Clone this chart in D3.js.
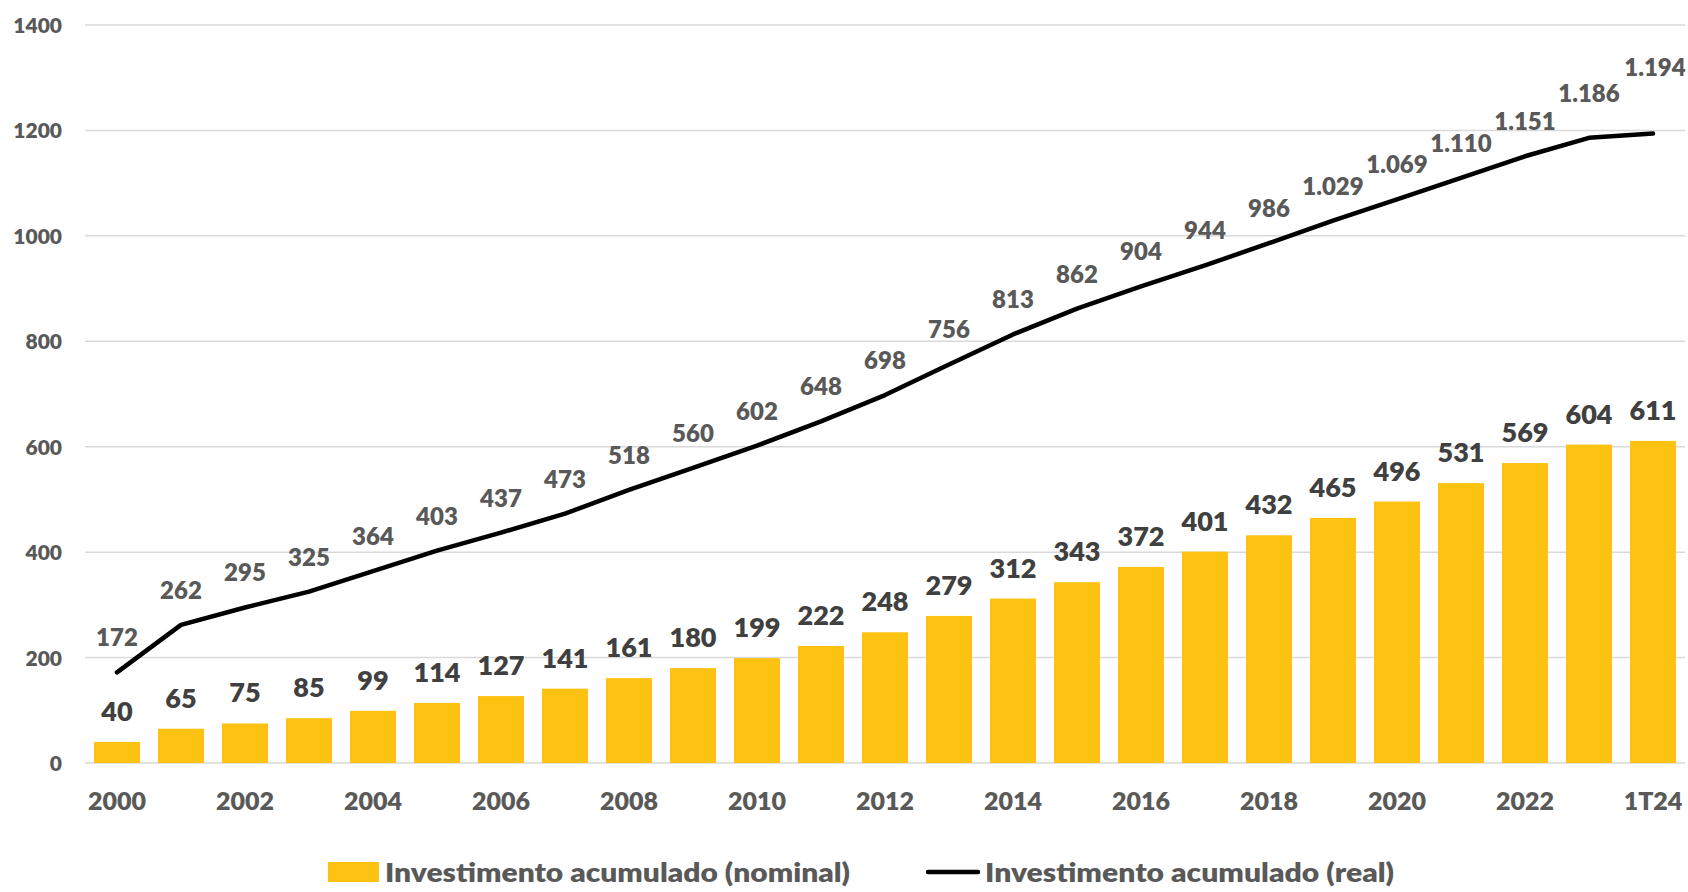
<!DOCTYPE html>
<html>
<head>
<meta charset="utf-8">
<script src="https://cdn.jsdelivr.net/npm/d3@7"></script>
<style>
  html, body { margin: 0; padding: 0; background: #fff; }
  svg { display: block; font-family: Lato, "Open Sans", sans-serif; font-weight: 800; }
</style>
</head>
<body>
<svg id="chart" width="1688" height="892"></svg>
<script>
const categories = ["2000","2001","2002","2003","2004","2005","2006","2007","2008","2009","2010","2011","2012","2013","2014","2015","2016","2017","2018","2019","2020","2021","2022","2023","1T24"];
const nominal = [40,65,75,85,99,114,127,141,161,180,199,222,248,279,312,343,372,401,432,465,496,531,569,604,611];
const real = [172,262,295,325,364,403,437,473,518,560,602,648,698,756,813,862,904,944,986,1029,1069,1110,1151,1186,1194];
const yTicks = [0,200,400,600,800,1000,1200,1400];
const xTickLabels = ["2000","2002","2004","2006","2008","2010","2012","2014","2016","2018","2020","2022","1T24"];
const seriesNames = ["Investimento acumulado (nominal)", "Investimento acumulado (real)"];

const svg = d3.select("#chart");
const plotLeft = 85, plotRight = 1685, plotTop = 25, plotBottom = 763;
const W = 800;

const x = d3.scaleBand().domain(categories).range([plotLeft, plotRight]).paddingInner(0.28).paddingOuter(0.14);
const y = d3.scaleLinear().domain([0, 1400]).range([plotBottom, plotTop]);

const fmt = v => d3.format(",")(v).replace(/,/g, ".");

// gridlines
svg.append("g").selectAll("line").data(yTicks).join("line")
  .attr("x1", plotLeft).attr("x2", plotRight)
  .attr("y1", d => y(d)).attr("y2", d => y(d))
  .attr("stroke", "#d9d9d9").attr("stroke-width", 1.5);

// y axis labels
const yAxis = d3.axisLeft(y).tickValues(yTicks).tickSize(0).tickPadding(0).tickFormat(d => d);
const gy = svg.append("g").attr("transform", `translate(${62},0)`).call(yAxis);
gy.select(".domain").remove();
gy.selectAll("text").attr("font-size", 21).attr("font-family", "Lato, sans-serif").attr("font-weight", W)
  .attr("fill", "#595959").attr("dy", "0.36em");

// bars
svg.append("g").selectAll("rect").data(nominal).join("rect")
  .attr("x", (d, i) => x(categories[i]))
  .attr("width", x.bandwidth())
  .attr("y", d => y(d))
  .attr("height", d => y(0) - y(d))
  .attr("fill", "#fec212");

// bar labels
svg.append("g").selectAll("text").data(nominal).join("text")
  .attr("x", (d, i) => x(categories[i]) + x.bandwidth() / 2)
  .attr("y", d => y(d) - 21)
  .attr("text-anchor", "middle")
  .attr("font-size", 27)
  .attr("fill", "#404040")
  .text(d => d);

// line
const cx = i => x(categories[i]) + x.bandwidth() / 2;
const line = d3.line().x((d, i) => cx(i)).y(d => y(d));
svg.append("path").datum(real)
  .attr("d", line)
  .attr("fill", "none")
  .attr("stroke", "#000")
  .attr("stroke-width", 4.5)
  .attr("stroke-linejoin", "round")
  .attr("stroke-linecap", "round");

// line labels (last two nudged upward as in the source)
const n = real.length;
const labelLift = i => i === n - 1 ? 58 : (i === n - 2 ? 36 : 26);
svg.append("g").selectAll("text").data(real).join("text")
  .attr("x", (d, i) => cx(i) + (i === n - 1 ? 2 : 0))
  .attr("y", (d, i) => y(d) - labelLift(i))
  .attr("text-anchor", "middle")
  .attr("font-size", 24)
  .attr("fill", "#595959")
  .text(d => fmt(d));

// x axis labels
const xAxis = d3.axisBottom(x).tickSize(0).tickPadding(0)
  .tickValues(xTickLabels);
const gx = svg.append("g").attr("transform", `translate(0,${810})`).call(xAxis);
gx.select(".domain").remove();
gx.selectAll("text").attr("font-size", 25).attr("font-family", "Lato, sans-serif").attr("font-weight", W)
  .attr("fill", "#595959").attr("dy", 0);

// legend
const lg = svg.append("g");
lg.append("rect").attr("x", 328).attr("y", 862).attr("width", 51).attr("height", 20).attr("fill", "#fec212");
lg.append("text").attr("x", 385).attr("y", 882).attr("font-size", 27).attr("fill", "#595959")
  .attr("textLength", 465).attr("lengthAdjust", "spacingAndGlyphs").text(seriesNames[0]);
lg.append("line").attr("x1", 928).attr("x2", 978).attr("y1", 872).attr("y2", 872)
  .attr("stroke", "#000").attr("stroke-width", 4.5).attr("stroke-linecap", "round");
lg.append("text").attr("x", 985).attr("y", 882).attr("font-size", 27).attr("fill", "#595959")
  .attr("textLength", 409).attr("lengthAdjust", "spacingAndGlyphs").text(seriesNames[1]);
</script>
</body>
</html>
